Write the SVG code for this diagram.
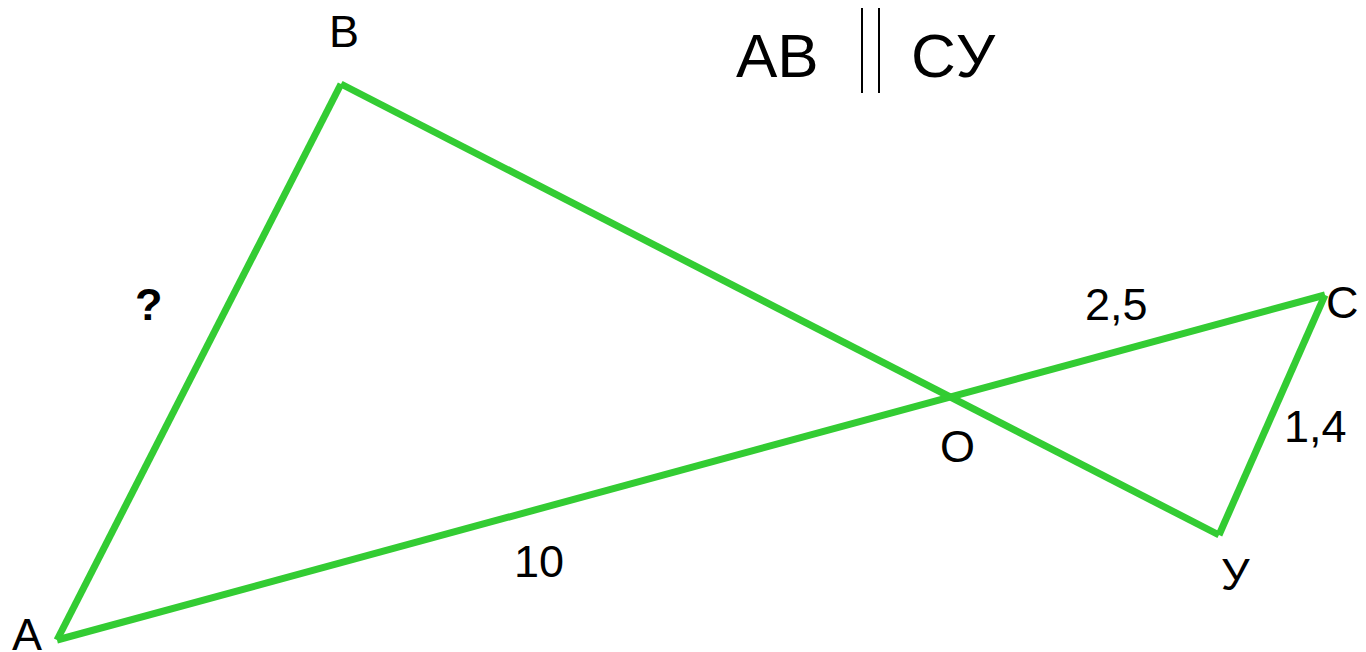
<svg xmlns="http://www.w3.org/2000/svg" width="1366" height="652" viewBox="0 0 1366 652">
<style>
.seg{stroke:#33cc33;stroke-width:7;fill:none;stroke-linecap:butt;stroke-linejoin:miter}
.lbl{font-family:"Liberation Sans",Arial,sans-serif;font-size:45px;fill:#000}
.big{font-family:"Liberation Sans",Arial,sans-serif;font-size:62px;fill:#000}
.bar{stroke:#000;stroke-width:2}
</style>
<rect width="1366" height="652" fill="#fff"/>
<g id="connectors">
<line class="seg" x1="57" y1="640" x2="341" y2="84"/>
<line class="seg" x1="341" y1="84" x2="1219" y2="535"/>
<line class="seg" x1="57" y1="640" x2="1325" y2="295"/>
<line class="seg" x1="1325" y1="295" x2="1219" y2="535"/>
</g>
<g id="pointA"><text class="lbl" x="12" y="650">A</text></g>
<g id="pointB"><text class="lbl" x="329" y="47">B</text></g>
<g id="pointC"><text class="lbl" x="1326" y="318">C</text></g>
<g id="pointO"><text class="lbl" x="940" y="462">O</text></g>
<g id="pointY"><text class="lbl" x="1221" y="590">У</text></g>
<g id="labels">
<text class="lbl" x="1085" y="320">2,5</text>
<text class="lbl" x="1284" y="442">1,4</text>
<text class="lbl" x="514" y="577">10</text>
<text class="lbl" x="135" y="320" font-weight="bold">?</text>
</g>
<g id="title">
<text class="big" x="736" y="77">AB</text>
<line class="bar" x1="862" y1="8" x2="862" y2="93"/>
<line class="bar" x1="879" y1="8" x2="879" y2="93"/>
<text class="big" x="911" y="77">CУ</text>
</g>
</svg>
